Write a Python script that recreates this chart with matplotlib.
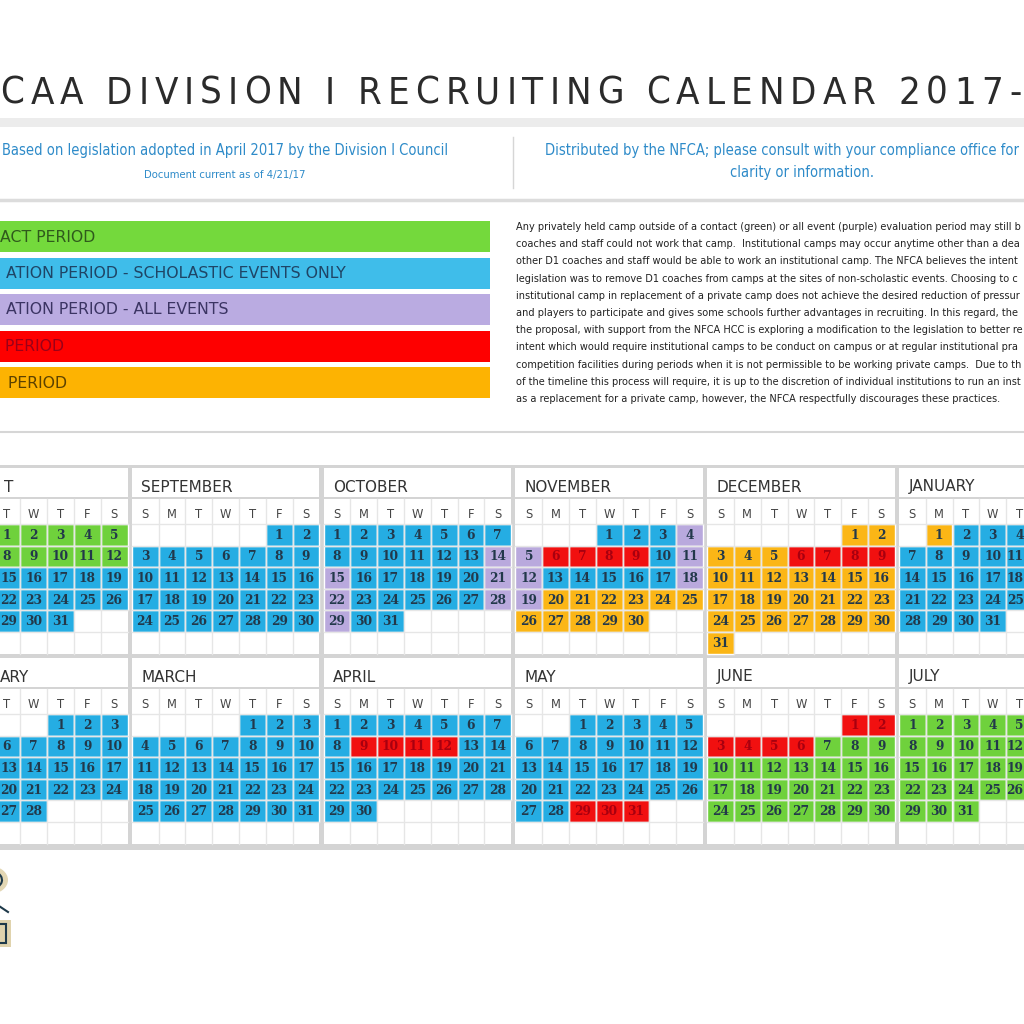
import matplotlib
matplotlib.use("Agg")
import matplotlib.pyplot as plt
import matplotlib.patches as patches
from matplotlib import font_manager as fm

MONTHS = ["AUGUST", "SEPTEMBER", "OCTOBER", "NOVEMBER", "DECEMBER", "JANUARY",
          "FEBRUARY", "MARCH", "APRIL", "MAY", "JUNE", "JULY"]
FIRST_WEEKDAY = [2, 5, 0, 3, 5, 1, 4, 4, 0, 2, 5, 0]   # 0 = Sunday
N_DAYS = [31, 30, 31, 30, 31, 31, 28, 31, 30, 31, 30, 31]
# (period code, first day, last day)
PERIODS = [
    [("G", 1, 12), ("B", 13, 31)],
    [("B", 1, 30)],
    [("B", 1, 13), ("P", 14, 15), ("B", 16, 20), ("P", 21, 22), ("B", 23, 27),
     ("P", 28, 29), ("B", 30, 31)],
    [("B", 1, 3), ("P", 4, 5), ("R", 6, 9), ("B", 10, 10), ("P", 11, 12),
     ("B", 13, 17), ("P", 18, 19), ("Q", 20, 30)],
    [("Q", 1, 5), ("R", 6, 9), ("Q", 10, 31)],
    [("Q", 1, 1), ("B", 2, 31)],
    [("B", 1, 28)],
    [("B", 1, 31)],
    [("B", 1, 8), ("R", 9, 12), ("B", 13, 30)],
    [("B", 1, 28), ("R", 29, 31)],
    [("R", 1, 6), ("G", 7, 30)],
    [("G", 1, 31)],
]
WEEKDAYS = ["S", "M", "T", "W", "T", "F", "S"]

LEGEND_CODES = ["G", "B", "P", "R", "Q"]
LEGEND_LABELS = ["CONTACT PERIOD",
                 "EVALUATION PERIOD - SCHOLASTIC EVENTS ONLY",
                 "EVALUATION PERIOD - ALL EVENTS",
                 "DEAD PERIOD",
                 "QUIET PERIOD"]

TITLE = "NCAA DIVISION I RECRUITING CALENDAR 2017-18"
SUB_LEFT = "Based on legislation adopted in April 2017 by the Division I Council"
SUB_DATE = "Document current as of 4/21/17"
SUB_RIGHT = ["Distributed by the NFCA; please consult with your compliance office for further",
             "clarity or information."]
NOTE_LINES = [
    "Any privately held camp outside of a contact (green) or all event (purple) evaluation period may still be held, however",
    "coaches and staff could not work that camp.  Institutional camps may occur anytime other than a dead period and",
    "other D1 coaches and staff would be able to work an institutional camp. The NFCA believes the intent of the",
    "legislation was to remove D1 coaches from camps at the sites of non-scholastic events. Choosing to conduct an",
    "institutional camp in replacement of a private camp does not achieve the desired reduction of pressure on coaches",
    "and players to participate and gives some schools further advantages in recruiting. In this regard, the sponsor of",
    "the proposal, with support from the NFCA HCC is exploring a modification to the legislation to better reflect the",
    "intent which would require institutional camps to be conduct on campus or at regular institutional practice and",
    "competition facilities during periods when it is not permissible to be working private camps.  Due to the length",
    "of the timeline this process will require, it is up to the discretion of individual institutions to run an institutional camp",
    "as a replacement for a private camp, however, the NFCA respectfully discourages these practices.",
]

# --- colours ---
BAR_COLORS = {"G": "#74d93c", "B": "#3fbdea", "P": "#baabe1", "R": "#fe0000", "Q": "#fdb302"}
CELL_COLORS = {"G": "#6fd13c", "B": "#25ade3", "P": "#b9a9dd", "R": "#f11010", "Q": "#fbb616"}
LABEL_COLORS = {"G": "#2f5a1c", "B": "#1f4566", "P": "#3b3463", "R": "#9b0018", "Q": "#5c4200"}
SUB_BLUE = "#2e8bc9"
GRID_GRAY = "#d4d4d4"


def as_weight(w):
    if isinstance(w, str):
        return fm.weight_dict.get(w, 400)
    return w


def narrow_font():
    # a light / regular condensed face if one is installed
    best = None
    for f in fm.fontManager.ttflist:
        narrow = ("Condensed" in f.name or "Narrow" in f.name
                  or f.stretch in ("condensed", "semi-condensed", "extra-condensed"))
        if not narrow or f.style != "normal":
            continue
        w = as_weight(f.weight)
        if w > 500:
            continue
        score = abs(w - 350)
        if best is None or score < best[0]:
            best = (score, f.name, w, f.stretch)
    if best is None:
        return "Liberation Sans", 400, "normal"
    return best[1], best[2], best[3]


NARROW, NARROW_W, STRETCH = narrow_font()

# --- layout (pixels) ---
CELL_W = 26.8
ROW_H = 21.6
BLOCK_W = 191.8
X_FIRST = -60.1          # left edge of August block (partly off the page)
BLOCK_TOPS = [465, 655]
PAGE_W = 1024

fig = plt.figure(figsize=(10.24, 10.24), dpi=100)
ax = fig.add_axes([0, 0, 1, 1])
ax.set_xlim(0, PAGE_W)
ax.set_ylim(1024, 0)
ax.axis("off")
renderer = fig.canvas.get_renderer()


def text_w(s, prop):
    return renderer.get_text_width_height_descent(s, prop, ismath=False)[0]


def narrow_prop(size):
    return fm.FontProperties(family=NARROW, stretch=STRETCH, size=size, weight=NARROW_W)


def fitted(prop, s, target):
    # font size that gives string s the width seen in the picture
    p = prop.copy()
    p.set_size(prop.get_size() * target / text_w(s, prop))
    return p


def page_text(x, y, s, prop, color):
    # left aligned text, keeping only the characters that lie on the page
    ws = [text_w(ch, prop) for ch in s]
    i = 0
    while i < len(s) and x < -2:
        x += ws[i]
        i += 1
    j = len(s)
    end = x + sum(ws[i:j])
    while j > i and end > PAGE_W:
        end -= ws[j - 1]
        j -= 1
    ax.text(x, y, s[i:j].rstrip(), fontproperties=prop, color=color, ha="left", va="center")


# --- title with wide tracking ---
tprop = narrow_prop(31)
vis = TITLE[1:TITLE.index("-") + 1]
widths = [text_w(ch, tprop) for ch in vis]
if PAGE_W - 3 - sum(widths) < 39 * 6:
    tprop.set_size(31 * (PAGE_W - 3 - 39 * 6) / sum(widths))
    widths = [text_w(ch, tprop) for ch in vis]
track = (PAGE_W - 3 - sum(widths)) / (len(vis) - 1)
x = 0.5
for ch, w in zip(vis, widths):
    if ch != " ":
        ax.text(x, 104, ch, fontproperties=tprop, color="#2b2b2b", ha="left", va="baseline")
    x += w + track

ax.add_patch(patches.Rectangle((-10, 118), 1044, 9, color="#ececec", lw=0))

# --- subtitles ---
sprop = fitted(narrow_prop(11.5), SUB_LEFT, 444)
dprop = fitted(narrow_prop(9), SUB_DATE, 162)
ax.text(225, 151, SUB_LEFT, fontproperties=sprop, color=SUB_BLUE, ha="center", va="center")
ax.text(225, 175, SUB_DATE, fontproperties=dprop, color=SUB_BLUE, ha="center", va="center")
ax.plot([513, 513], [137, 188], color="#d6d6d6", lw=1)
page_text(545, 151, SUB_RIGHT[0], sprop, SUB_BLUE)
ax.text(802, 173, SUB_RIGHT[1], fontproperties=sprop, color=SUB_BLUE, ha="center", va="center")
ax.plot([-10, 1034], [200, 200], color="#dcdcdc", lw=2.5)

# --- legend bars ---
lprop = fitted(fm.FontProperties(family="DejaVu Sans", size=11), LEGEND_LABELS[1], 392)
for i, (code, label) in enumerate(zip(LEGEND_CODES, LEGEND_LABELS)):
    top = 221 + i * 36.5
    ax.add_patch(patches.Rectangle((-80, top), 570, 31, color=BAR_COLORS[code], lw=0))
    page_text(-45, top + 16, label, lprop, LABEL_COLORS[code])

# --- note paragraph ---
nprop = fitted(narrow_prop(8.6), NOTE_LINES[-1], 483)
for i, line in enumerate(NOTE_LINES):
    page_text(516, 227 + i * 17.2, line, nprop, "#222222")

ax.plot([-10, 1034], [432, 432], color="#d6d6d6", lw=1.5)

# --- calendar ---
mprop = fm.FontProperties(family="DejaVu Sans", size=11)
dayprop = fm.FontProperties(family="DejaVu Serif", size=8.8, weight="bold")
ax.add_patch(patches.Rectangle((-100, 465), 1224, 385, color=GRID_GRAY, lw=0))
for m, month in enumerate(MONTHS):
    r, c = divmod(m, 6)
    bx = X_FIRST + c * BLOCK_W
    y0 = BLOCK_TOPS[r]
    width = 7 * CELL_W
    body_top = y0 + 34
    rows_top = y0 + 59
    bottom = rows_top + 6 * ROW_H

    ax.add_patch(patches.Rectangle((bx, y0 + 3), width, 29, color="white", lw=0))
    page_text(bx + 9.5, y0 + 22, month, mprop, "#333333")

    ax.add_patch(patches.Rectangle((bx, body_top), width, bottom - body_top, color="white", lw=0))
    for k in range(1, 7):
        ax.plot([bx + k * CELL_W] * 2, [body_top, bottom], color="#e6e6e6", lw=1)
    for k in range(6):
        ax.plot([bx, bx + width], [rows_top + k * ROW_H] * 2, color="#e6e6e6", lw=1)

    for k, wd in enumerate(WEEKDAYS):
        cx = bx + (k + 0.5) * CELL_W
        if 0 <= cx <= PAGE_W:
            ax.text(cx, y0 + 49, wd, family="DejaVu Sans", fontsize=8.3,
                    color="#444444", ha="center", va="center")

    codes = {}
    for code, d1, d2 in PERIODS[m]:
        for d in range(d1, d2 + 1):
            codes[d] = code
    for d in range(1, N_DAYS[m] + 1):
        idx = FIRST_WEEKDAY[m] + d - 1
        row, col = divmod(idx, 7)
        cx = bx + col * CELL_W
        cy = rows_top + row * ROW_H
        code = codes[d]
        ax.add_patch(patches.Rectangle((cx, cy), CELL_W, ROW_H, facecolor=CELL_COLORS[code],
                                       edgecolor="white", lw=1))
        tx = cx + CELL_W / 2
        if 0 <= tx <= PAGE_W:
            half = text_w(str(d), dayprop) / 2
            tx = min(max(tx, half + 0.5), PAGE_W - half - 0.5)
            ax.text(tx, cy + ROW_H / 2 + 0.5, str(d), fontproperties=dayprop,
                    color="#a8000f" if code == "R" else "#22384a",
                    ha="center", va="center")

# --- piece of the NFCA logo, cut by the page edge ---
ax.add_patch(patches.Ellipse((-10, 880), 36, 28, facecolor="#e3d7b4", lw=0))
ax.add_patch(patches.Arc((-10, 880), 24, 18, theta1=-60, theta2=90, color="#1f3a4a", lw=1.5))
ax.plot([-4, 8], [904, 912], color="#1f3a4a", lw=1.5)
ax.add_patch(patches.Rectangle((-20, 920), 31, 27, facecolor="#e0d3ad", lw=0))
ax.add_patch(patches.Rectangle((-15, 924), 21, 19, facecolor="none", edgecolor="#1f3a4a", lw=1.5))

fig.savefig("out.png", dpi=100)
